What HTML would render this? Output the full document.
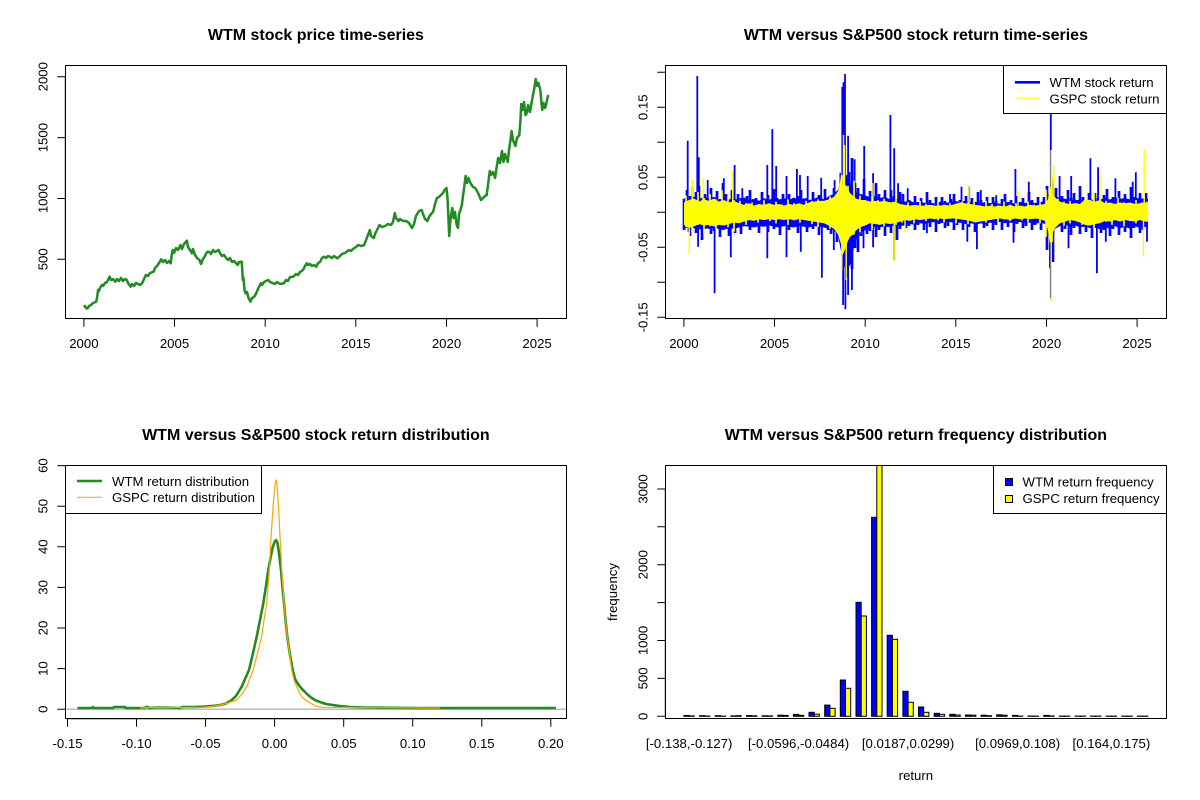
<!DOCTYPE html>
<html><head><meta charset="utf-8"><style>
html,body{margin:0;padding:0;background:#fff;}
svg{display:block;}
text{font-family:"Liberation Sans",Arial,Helvetica,sans-serif;fill:#000;}
.t{font-size:16px;font-weight:bold;}
.l{font-size:13.2px;}
</style></head><body>
<svg width="1200" height="800" viewBox="0 0 1200 800" xmlns="http://www.w3.org/2000/svg">
<rect width="1200" height="800" fill="#fff"/>
<defs>
<clipPath id="c1"><rect x="65.3" y="65.3" width="501.2" height="253.5"/></clipPath>
<clipPath id="c2"><rect x="665.3" y="65.3" width="501.2" height="253.5"/></clipPath>
<clipPath id="c3"><rect x="65.3" y="465.3" width="501.2" height="253.5"/></clipPath>
<clipPath id="c4"><rect x="665.3" y="465.3" width="501.2" height="253.5"/></clipPath>
</defs>

<!-- ============ Panel 1: price ============ -->
<text class="t" x="315.9" y="40" text-anchor="middle">WTM stock price time-series</text>
<g clip-path="url(#c1)">
<polyline fill="none" stroke="#228B22" stroke-width="2.5" stroke-linejoin="round" points="83.9,307.3 85,306 86.5,308.5 87.7,308.3 89,306 91,305 93,303 96.2,301.7 97,298 98.1,290 99,291 100,288 101.9,285 103,286 105,283 107,282 109.6,276.7 111,280 113,279 115.3,281.7 117,279 119,281 121,278 123,281 125,279 126.8,280 128,283 130.6,286.7 132,284 134,286 136,283 138,284 140,285 142.1,283.3 144,279 145.9,275 148,276 150,273 153.6,271.7 155,268 157,266 159,263 161.2,259.3 163,262 165,260 167,263 169,261 170.8,263.3 171.5,256 172.7,250 174,253 176,248 178,250 180.4,245 182,249 184,244 186.9,240.7 188,247 190,250 191.9,253.3 193,249 195,255 197,258 199.5,260 201,264 203,259 205,256 207,252 209.1,251.7 211,254 213,250 215,252 218.7,250 220,253 222,256 224,255 226.3,258.3 228,260 230,258 232,262 234,261 237.8,265 239,262 241.7,261.7 242.3,270 242.8,280 243.5,278 244.5,290 245.5,293.3 247,292 248.5,298 250.5,301.7 252,298 254,297 256.2,293.3 258,289 260.8,283.3 262,285 264,282 266,281 268.5,280 270,282 273.1,283.3 275,284 277,282 280,284 283.8,283.3 286,280 288,281 290,277 293.3,276.7 296,274 298,275 300,272 303,270 305,266 306.8,263.3 308,265 310,264 312,266 314,265 316.3,266.7 318,263 320,262 322,258 324,256.7 326,258 328,256 329.7,256.7 332,258 334,256 337.4,258.3 340,256 342,254 345,253 348.9,250 351,251 353,249 356,247 358.4,245 361,246 364.2,245 366,240 368,235 369.9,230 371,236 373.8,238 375,234 377,230 379.5,225 382,227 385,226 388,224 391,225 393,222 394.8,213 396,218 398.6,221 400,219 403,221 406.3,221 409,223 412,228 414,224 416,216 417.8,213 419,211 421.6,210 423,214 425,219 427.4,221 429,217 431,214 433.1,212 435,204 436.9,198 439,197 441,195 443,193 444.5,190 446.5,188 447.5,198 448.3,215 449.2,236 450,225 451,215 452.3,208 453.5,218 455,212 456.5,224 458,228 459,214 460.5,210 461.8,205 463,196 464.5,185 465.6,176 467,183 468.5,178 469.5,181 471,184 473,187 475.2,188 477,191 479,195 481,200 483,198 485,196 486.7,195 488,185 489.8,171 491,175 493,172 495.1,178 496.5,168 498.2,158 500,163 502,151 503.5,162 505,154 507.8,162 509,150 510.5,140 511.6,131 513,140 515.4,146 517,138 519.3,135 520.5,120 521.2,104 522.5,110 524,102 525.5,115 526.9,113 528,105 530,112 532.6,97 534,90 535.7,79 537,86 538.5,83 540.3,90 541.2,100 542.2,110 543.5,103 545,108 546,105 547,100 548.1,95"/>
</g>
<rect x="65.5" y="65.5" width="501" height="253" fill="none" stroke="#000" stroke-width="1"/>
<path d="M83.9 318.8V326.8M174.5 318.8V326.8M265.2 318.8V326.8M355.8 318.8V326.8M446.5 318.8V326.8M537.1 318.8V326.8M83.9 318.8H537.1" stroke="#000" stroke-width="1" fill="none"/>
<g class="l" text-anchor="middle">
<text x="83.9" y="348">2000</text><text x="174.5" y="348">2005</text><text x="265.2" y="348">2010</text><text x="355.8" y="348">2015</text><text x="446.5" y="348">2020</text><text x="537.1" y="348">2025</text>
</g>
<path d="M57.3 259.3H65.3M57.3 198.5H65.3M57.3 137.6H65.3M57.3 76.7H65.3M65.3 76.7V259.3" stroke="#000" stroke-width="1" fill="none"/>
<g class="l" text-anchor="middle">
<text transform="translate(47.5,259.3) rotate(-90)">500</text>
<text transform="translate(47.5,198.5) rotate(-90)">1000</text>
<text transform="translate(47.5,137.6) rotate(-90)">1500</text>
<text transform="translate(47.5,76.7) rotate(-90)">2000</text>
</g>

<!-- ============ Panel 2: returns ============ -->
<text class="t" x="915.9" y="40" text-anchor="middle">WTM versus S&amp;P500 stock return time-series</text>
<g clip-path="url(#c2)">
<g transform="translate(0,212.3) scale(1,0.7) translate(0,-212.3)">
<polygon fill="#0000FF" points="684,192 689,194 694,190 699,195 704,189 709,193 714,191 719,195 724,190 729,194 734,192 739,196 744,191 749,195 754,193 759,196 764,192 769,195 774,190 779,194 784,192 789,195 794,191 799,196 804,192 809,195 814,193 819,190 824,194 829,189 834,186 838,180 841,165 843,160 845,162 847,158 849,165 851,172 853,178 856,183 860,186 865,188 870,191 875,189 880,192 885,190 890,194 895,192 900,195 905,197 910,196 915,199 920,197 925,199 930,198 935,200 940,197 945,199 950,198 955,196 960,198 965,196 970,198 975,197 980,199 985,198 990,200 995,199 1000,200 1005,199 1010,198 1015,200 1020,198 1025,199 1030,197 1035,199 1040,198 1045,196 1048,190 1050,180 1052,177 1054,185 1057,190 1060,192 1065,193 1070,195 1075,194 1080,196 1085,195 1090,193 1095,196 1100,194 1105,192 1110,194 1115,191 1120,193 1125,192 1130,194 1135,191 1140,193 1145,192 1148,193 1148,236 1145,233 1140,235 1135,232 1130,236 1125,233 1120,235 1115,232 1110,236 1105,234 1100,237 1095,233 1090,235 1085,232 1080,234 1075,231 1070,233 1065,230 1060,232 1055,236 1052,245 1050,250 1048,240 1045,229 1040,227 1035,229 1030,227 1025,228 1020,226 1015,228 1010,227 1005,228 1000,226 995,228 990,227 985,229 980,228 975,229 970,228 965,229 960,227 955,228 950,226 945,227 940,228 935,226 930,227 925,229 920,228 915,230 910,229 905,231 900,232 895,231 890,233 885,232 880,234 875,233 870,236 865,238 860,242 856,252 853,268 851,285 849,290 847,295 845,292 843,288 841,268 838,245 834,238 829,236 824,234 819,233 814,232 809,234 804,233 799,232 794,234 789,233 784,232 779,234 774,233 769,231 764,233 759,232 754,234 749,233 744,232 739,234 734,236 729,235 724,237 719,236 714,235 709,236 704,234 699,237 694,235 689,233 684,236"/>
</g>
<path fill="none" stroke="#0000FF" stroke-width="2.7" d="M684 199V230M687 190V224M690 196V236M693 201V227M696 192V233M699 186V225M702 198V240M705 194V229M708 200V223M711 188V234M714 197V231M717 191V226M720 199V237M723 183V230M726 194V224M729 201V236M732 190V227M735 199V233M738 194V223M741 198V234M744 203V225M747 196V221M750 190V230M753 200V227M756 198V224M759 202V233M762 192V226M765 199V222M768 195V232M771 201V225M774 189V229M777 198V223M780 203V235M783 194V226M786 201V221M789 194V230M792 199V227M795 203V224M798 196V233M801 190V226M804 200V222M807 198V232M810 202V225M813 192V229M816 199V223M819 195V235M822 201V226M825 189V221M828 198V230M831 200V234M834 188V229M837 198V242M840 188V233M843 178V245M846 190V278M849 172V254M852 158V269M855 183V248M858 188V252M861 196V236M864 179V228M867 197V234M870 191V231M873 199V226M876 183V237M879 194V230M882 201V224M885 190V236M888 199V227M891 190V233M894 196V225M897 201V240M900 192V229M903 194V220M906 202V228M909 200V226M912 204V222M915 196V230M918 202V225M921 198V221M924 203V230M927 192V223M930 200V227M933 205V222M936 197V232M939 203V224M942 197V220M945 201V228M948 205V226M951 199V222M954 194V230M957 202V225M960 200V221M963 204V230M966 196V223M969 202V227M972 198V222M975 203V232M978 192V224M981 200V220M984 205V228M987 197V226M990 203V222M993 197V230M996 201V225M999 205V221M1002 199V230M1005 194V223M1008 202V227M1011 200V222M1014 204V232M1017 196V224M1020 202V220M1023 198V228M1026 203V226M1029 192V222M1032 200V230M1035 205V225M1038 197V221M1041 203V230M1044 197V223M1047 186V250M1050 194V236M1053 180V262M1056 188V227M1059 199V222M1062 196V232M1065 201V229M1068 190V225M1071 198V235M1074 193V228M1077 200V223M1080 186V234M1083 197V227M1086 203V232M1089 193V225M1092 201V238M1095 193V228M1098 198V223M1101 203V233M1104 195V230M1107 189V226M1110 200V236M1113 197V229M1116 202V224M1119 191V235M1122 199V227M1125 194V232M1128 201V225M1131 187V238M1134 197V228M1137 203V223M1140 193V233M1143 201V230M1146 193V226"/>
<path fill="none" stroke="#0000FF" stroke-width="1.8" d="M687.7 212V140.7M697.3 212V76M698.8 212V157.3M692.3 212V186.7M707.7 212V180M723.8 212V178.3M734.6 212V165M742.3 212V188.3M767.3 212V165M772.3 212V129.3M776.2 212V166M786.5 212V176M796.9 212V169M800 212V175M807.7 212V176M821.2 212V177.7M834.6 212V180M840.4 212V172.7M843.5 212V82.3M845 212V74M842.3 212V86.7M848.1 212V135.7M851.9 212V160M854.6 212V159.3M864.2 212V146M873.1 212V173.3M884.6 212V194M890.4 212V115M894.2 212V148.3M898.1 212V183.3M907.7 212V188.3M950 212V194M961.5 212V186.7M969.2 212V186.7M980.8 212V190M996.2 212V195.3M1015.4 212V169M1028.8 212V181.7M1050.8 212V113.3M1059.6 212V176M1071.2 212V176M1090.4 212V158.3M1098.1 212V167.3M1115.4 212V178.3M1132.7 212V181.7M1135.8 212V172.3
M688.5 212V231.7M698.1 212V246.7M714.6 212V293.3M730.8 212V257.3M767.3 212V258.3M786.5 212V257.3M800.8 212V251.7M821.9 212V277.7M833.8 212V250M843.1 212V305M845.4 212V309.3M848.1 212V295M851.9 212V290M863.5 212V248.3M873.1 212V247.3M894.2 212V260M926.9 212V233.3M967.3 212V241.7M976.9 212V249.3M1013.5 212V242.7M1050 212V268.3M1050.8 212V298.3M1068.5 212V248.3M1096.9 212V273.3M1105.8 212V241.7M1147 212V241.7"/>
<g transform="translate(0,212.3) scale(1,0.8) translate(0,-212.3)">
<polygon fill="#FFFF00" points="684,200 689,197 694,195 699,199 704,196 709,198 714,195 719,199 724,197 729,200 734,198 739,201 744,203 749,201 754,204 759,202 764,203 769,201 774,203 779,202 784,204 789,202 794,203 799,201 804,203 809,200 814,199 819,198 824,198 829,196 834,193 838,186 840,175 841.5,160 842.5,176 844,180 846,178 848,184 850,188 853,192 856,195 860,197 865,197 870,199 875,198 880,199 885,198 890,200 895,199 900,202 905,203 910,204 915,203 920,204 925,204 930,203 935,204 940,204 945,203 950,204 955,202 960,200 965,201 970,202 975,203 980,204 985,205 990,204 995,205 1000,204 1005,205 1010,203 1015,205 1020,204 1025,205 1030,203 1035,204 1040,203 1045,202 1048,196 1050,180 1052,188 1054,192 1057,196 1060,199 1065,201 1070,202 1075,201 1080,202 1085,196 1090,197 1095,199 1100,197 1105,201 1110,200 1115,202 1120,200 1125,201 1130,200 1135,202 1140,201 1145,200 1148,201 1148,223 1145,224 1140,222 1135,224 1130,223 1125,222 1120,224 1115,222 1110,224 1105,223 1100,226 1095,227 1090,229 1085,228 1080,225 1075,223 1070,222 1065,224 1060,226 1055,232 1052,240 1050,252 1048,235 1045,223 1040,221 1035,220 1030,221 1025,220 1020,221 1015,220 1010,222 1005,221 1000,220 995,221 990,222 985,223 980,224 975,225 970,223 965,222 960,221 955,220 950,220 945,221 940,220 935,221 930,220 925,221 920,222 915,221 910,223 905,222 900,224 895,226 890,227 885,226 880,228 875,227 870,226 865,229 860,231 856,235 853,240 850,243 848,248 846,255 844,262 842.5,266 841,252 838,240 834,233 829,229 824,226 819,225 814,224 809,223 804,222 799,221 794,222 789,221 784,222 779,221 774,222 769,221 764,222 759,221 754,223 749,222 744,224 739,226 734,225 729,227 724,229 719,228 714,230 709,228 704,229 699,227 694,230 689,232 684,228"/>
</g>
<g transform="translate(0,212.3) scale(1,0.75) translate(0,-212.3)">
<path fill="none" stroke="#FFFF00" stroke-width="1.7" d="M686 190V232M692 197V238M698 185V229M704 193V241M710 188V231M716 195V235M722 183V227M728 192V232M734 196V238M740 197V222M746 200V229M752 199V223M758 203V226M764 196V221M770 201V224M776 198V227M782 202V222M788 195V229M794 200V223M800 203V226M806 197V221M812 197V228M818 195V232M824 200V225M830 191V234M836 198V226M842 163V259M848 177V244M854 170V242M860 190V239M866 199V226M872 191V236M878 196V227M884 194V231M890 199V225M896 190V229M902 202V226M908 199V221M914 203V227M920 197V222M926 201V224M932 203V220M938 198V223M944 202V226M950 200V221M956 204V227M962 198V222M968 199V228M974 195V223M980 203V223M986 197V226M992 201V221M998 203V227M1004 198V222M1010 202V224M1016 200V220M1022 204V223M1028 198V226M1034 202V221M1040 199V227M1046 182V245M1052 161V252M1058 194V226M1064 198V230M1070 197V227M1076 200V222M1082 199V229M1088 198V230M1094 186V234M1100 194V226M1106 197V225M1112 201V229M1118 193V223M1124 199V231M1130 202V224M1136 196V227M1142 199V222M1147 198V225"/>
</g>
<path fill="none" stroke="#FFFF00" stroke-width="1.4" d="M1144.2 212V149.3M1143.5 212V256.7M1051.2 212V150M1051.2 212V301.7M843.5 212V135M846.2 212V280M844.5 212V145M841.8 212V270M689.2 212V254M894.2 212V261M692.3 212V180M703 212V178M732.7 212V171.7M873 212V183M969 212V185M1100 212V175M1053.8 212V165M1018 212V190M905 212V232"/>
</g>
<rect x="665.5" y="65.5" width="501" height="253" fill="none" stroke="#000" stroke-width="1"/>
<path d="M683.9 318.8V326.8M774.5 318.8V326.8M865.2 318.8V326.8M955.8 318.8V326.8M1046.5 318.8V326.8M1137.1 318.8V326.8M683.9 318.8H1137.1" stroke="#000" stroke-width="1" fill="none"/>
<g class="l" text-anchor="middle">
<text x="683.9" y="348">2000</text><text x="774.5" y="348">2005</text><text x="865.2" y="348">2010</text><text x="955.8" y="348">2015</text><text x="1046.5" y="348">2020</text><text x="1137.1" y="348">2025</text>
</g>
<path d="M657.3 72.3H665.3M657.3 107.3H665.3M657.3 142.3H665.3M657.3 177.3H665.3M657.3 212.3H665.3M657.3 247.3H665.3M657.3 282.3H665.3M657.3 317.3H665.3" stroke="#000" stroke-width="1" fill="none"/>
<g class="l" text-anchor="middle">
<text transform="translate(647.5,107.3) rotate(-90)">0.15</text>
<text transform="translate(647.5,177.3) rotate(-90)">0.05</text>
<text transform="translate(647.5,247.3) rotate(-90)">-0.05</text>
<text transform="translate(647.5,317.3) rotate(-90)">-0.15</text>
</g>
<rect x="1003.5" y="65.5" width="163" height="48" fill="#fff" stroke="#000" stroke-width="1"/>
<path d="M1015 82.3H1040" stroke="#0000FF" stroke-width="2.6"/>
<path d="M1015 98.3H1040" stroke="#FFFF00" stroke-width="1"/>
<text class="l" x="1049.5" y="87">WTM stock return</text>
<text class="l" x="1049.5" y="103.3">GSPC stock return</text>

<!-- ============ Panel 3: density ============ -->
<text class="t" x="315.9" y="440" text-anchor="middle">WTM versus S&amp;P500 stock return distribution</text>
<g clip-path="url(#c3)">
<path d="M65.3 709.2H566.5" stroke="#BEBEBE" stroke-width="1.5"/>
<polyline fill="none" stroke="#228B22" stroke-width="2.6" stroke-linejoin="round" points="77.5,708 92,708 93,707 94,708 113,708 114,707 125,707 126,708 145,708 146,707 148,707 149,708 155,707.5 165,707.5 180,708 182,707 195,707 205,706.6 214,705.8 220,705 226,703.5 231.7,700 236,696 241.7,686.7 245,679 249,670 253,653 256.7,636.7 260,620 263.3,603.3 266,586 268.3,570 270.5,558 272.5,548 274.5,542 276,540 277.5,543 279,553 281,570 282.5,587 284,603.3 285.5,620 287.3,636.7 289.5,652 292.7,670 295,679 298,684 300,686.7 303,690 307,694 311,697.5 315,700 320,702 326,704 333,705 340,706 350,707 365,707.5 390,707.8 420,708 556,708"/>
<polyline fill="none" stroke="#FFA500" stroke-width="1.2" stroke-linejoin="round" points="140,708 150,707.5 200,707.5 212,706.5 220,705 228,703 236.7,700 242,694 246.7,686.7 250,678 253.3,670 257,655 261.7,636.7 264,620 266.7,603.3 268,587 269.3,570 270.2,553 271,536.7 272.2,520 273.3,503.3 274.5,490 275.5,482 276.3,480 277,484 278.3,503.3 279.2,520 280,536.7 281,553 281.7,570 283,587 284,603.3 285.5,620 287.3,636.7 289.5,653 291.7,670 294,680 296.7,686.7 299,692 302,697 306.7,701 311,703.5 316.7,706.5 322,707.3 340,707.5 400,707.8 440,708"/>
</g>
<rect x="65.5" y="465.5" width="501" height="253" fill="none" stroke="#000" stroke-width="1"/>
<path d="M67.5 718.8V726.8M136.5 718.8V726.8M205.5 718.8V726.8M274.6 718.8V726.8M343.7 718.8V726.8M412.7 718.8V726.8M481.8 718.8V726.8M550.8 718.8V726.8M67.5 718.8H550.8" stroke="#000" stroke-width="1" fill="none"/>
<g class="l" text-anchor="middle">
<text x="67.5" y="748">-0.15</text><text x="136.5" y="748">-0.10</text><text x="205.5" y="748">-0.05</text><text x="274.6" y="748">0.00</text><text x="343.7" y="748">0.05</text><text x="412.7" y="748">0.10</text><text x="481.8" y="748">0.15</text><text x="550.8" y="748">0.20</text>
</g>
<path d="M57.3 709.2H65.3M57.3 668.6H65.3M57.3 628H65.3M57.3 587.4H65.3M57.3 546.8H65.3M57.3 506.2H65.3M57.3 465.6H65.3" stroke="#000" stroke-width="1" fill="none"/>
<g class="l" text-anchor="middle">
<text transform="translate(47.5,709.2) rotate(-90)">0</text>
<text transform="translate(47.5,668.6) rotate(-90)">10</text>
<text transform="translate(47.5,628) rotate(-90)">20</text>
<text transform="translate(47.5,587.4) rotate(-90)">30</text>
<text transform="translate(47.5,546.8) rotate(-90)">40</text>
<text transform="translate(47.5,506.2) rotate(-90)">50</text>
<text transform="translate(47.5,465.6) rotate(-90)">60</text>
</g>
<rect x="65.5" y="465.5" width="196" height="48" fill="#fff" stroke="#000" stroke-width="1"/>
<path d="M77 481H102" stroke="#228B22" stroke-width="2.6"/>
<path d="M77 497.3H102" stroke="#FFA500" stroke-width="1"/>
<text class="l" x="112" y="485.8">WTM return distribution</text>
<text class="l" x="112" y="502.1">GSPC return distribution</text>

<!-- ============ Panel 4: bars ============ -->
<text class="t" x="915.9" y="440" text-anchor="middle">WTM versus S&amp;P500 return frequency distribution</text>
<g clip-path="url(#c4)" stroke="#000" stroke-width="1">
<g fill="#0000FF">
<rect x="683.9" y="715.5" width="5.2" height="0.8"/>
<rect x="699.5" y="715.7" width="5.2" height="0.6"/>
<rect x="715.2" y="715.7" width="5.2" height="0.6"/>
<rect x="730.8" y="715.9" width="5.2" height="0.4"/>
<rect x="746.5" y="715.5" width="5.2" height="0.8"/>
<rect x="762.1" y="715.8" width="5.2" height="0.5"/>
<rect x="777.8" y="715.2" width="5.2" height="1.1"/>
<rect x="793.4" y="714.4" width="5.2" height="1.9"/>
<rect x="809.0" y="712.3" width="5.2" height="4.0"/>
<rect x="824.7" y="705.1" width="5.2" height="11.2"/>
<rect x="840.3" y="680.0" width="5.2" height="36.3"/>
<rect x="856.0" y="602.3" width="5.2" height="114.0"/>
<rect x="871.6" y="517.3" width="5.2" height="199.0"/>
<rect x="887.2" y="635.3" width="5.2" height="81.0"/>
<rect x="902.9" y="691.3" width="5.2" height="25.0"/>
<rect x="918.5" y="707.0" width="5.2" height="9.3"/>
<rect x="934.2" y="713.3" width="5.2" height="3.0"/>
<rect x="949.8" y="714.3" width="5.2" height="2.0"/>
<rect x="965.5" y="715.0" width="5.2" height="1.3"/>
<rect x="981.1" y="715.2" width="5.2" height="1.1"/>
<rect x="996.7" y="714.8" width="5.2" height="1.5"/>
<rect x="1012.4" y="715.4" width="5.2" height="0.9"/>
<rect x="1028.0" y="716.0" width="5.2" height="0.3"/>
<rect x="1043.7" y="715.4" width="5.2" height="0.9"/>
<rect x="1059.3" y="716.1" width="5.2" height="0.2"/>
<rect x="1075.0" y="716.1" width="5.2" height="0.2"/>
<rect x="1090.6" y="716.1" width="5.2" height="0.2"/>
<rect x="1106.2" y="716.1" width="5.2" height="0.2"/>
<rect x="1121.9" y="716.1" width="5.2" height="0.2"/>
<rect x="1137.5" y="716.1" width="5.2" height="0.2"/>
</g>
<g fill="#FFFF00">
<rect x="689.1" y="715.9" width="5.2" height="0.4"/>
<rect x="704.7" y="716.0" width="5.2" height="0.3"/>
<rect x="720.4" y="716.1" width="5.2" height="0.2"/>
<rect x="736.0" y="715.7" width="5.2" height="0.6"/>
<rect x="751.7" y="715.8" width="5.2" height="0.5"/>
<rect x="767.3" y="715.9" width="5.2" height="0.4"/>
<rect x="783.0" y="715.4" width="5.2" height="0.9"/>
<rect x="798.6" y="715.3" width="5.2" height="1.0"/>
<rect x="814.2" y="714.2" width="5.2" height="2.1"/>
<rect x="829.9" y="708.3" width="5.2" height="8.0"/>
<rect x="845.5" y="688.3" width="5.2" height="28.0"/>
<rect x="861.2" y="616.0" width="5.2" height="100.3"/>
<rect x="876.8" y="460" width="5.2" height="256.3"/>
<rect x="892.4" y="639.3" width="5.2" height="77.0"/>
<rect x="908.1" y="702.3" width="5.2" height="14.0"/>
<rect x="923.7" y="712.3" width="5.2" height="4.0"/>
<rect x="939.4" y="714.3" width="5.2" height="2.0"/>
<rect x="955.0" y="715.0" width="5.2" height="1.3"/>
<rect x="970.7" y="715.2" width="5.2" height="1.1"/>
<rect x="986.3" y="715.7" width="5.2" height="0.6"/>
<rect x="1001.9" y="715.2" width="5.2" height="1.1"/>
<rect x="1017.6" y="716.1" width="5.2" height="0.2"/>
<rect x="1033.2" y="716.1" width="5.2" height="0.2"/>
<rect x="1048.9" y="715.9" width="5.2" height="0.4"/>
<rect x="1064.5" y="716.1" width="5.2" height="0.2"/>
<rect x="1080.2" y="716.1" width="5.2" height="0.2"/>
<rect x="1095.8" y="716.1" width="5.2" height="0.2"/>
<rect x="1111.4" y="716.1" width="5.2" height="0.2"/>
<rect x="1127.1" y="716.1" width="5.2" height="0.2"/>
<rect x="1142.7" y="716.1" width="5.2" height="0.2"/>
</g>
</g>
<rect x="665.5" y="465.5" width="501" height="253" fill="none" stroke="#000" stroke-width="1"/>
<path d="M657.3 716.3H665.3M657.3 678.4H665.3M657.3 640.5H665.3M657.3 602.6H665.3M657.3 564.7H665.3M657.3 526.8H665.3M657.3 489H665.3M665.3 489V716.3" stroke="#000" stroke-width="1" fill="none"/>
<g class="l" text-anchor="middle">
<text transform="translate(647.5,716.3) rotate(-90)">0</text>
<text transform="translate(647.5,678.4) rotate(-90)">500</text>
<text transform="translate(647.5,640.5) rotate(-90)">1000</text>
<text transform="translate(647.5,564.7) rotate(-90)">2000</text>
<text transform="translate(647.5,489) rotate(-90)">3000</text>
</g>
<g class="l" text-anchor="middle">
<text x="689.1" y="748">[-0.138,-0.127)</text>
<text x="798.6" y="748">[-0.0596,-0.0484)</text>
<text x="908.1" y="748">[0.0187,0.0299)</text>
<text x="1017.6" y="748">[0.0969,0.108)</text>
<text x="1111.4" y="748">[0.164,0.175)</text>
<text x="915.9" y="780">return</text>
<text transform="translate(617,592) rotate(-90)">frequency</text>
</g>
<rect x="993.5" y="465.5" width="173" height="48" fill="#fff" stroke="#000" stroke-width="1"/>
<rect x="1005.5" y="478.5" width="7" height="7" fill="#0000FF" stroke="#000" stroke-width="1"/>
<rect x="1005.5" y="495.5" width="7" height="7" fill="#FFFF00" stroke="#000" stroke-width="1"/>
<text class="l" x="1022.5" y="486.7">WTM return frequency</text>
<text class="l" x="1022.5" y="503">GSPC return frequency</text>
</svg>
</body></html>
